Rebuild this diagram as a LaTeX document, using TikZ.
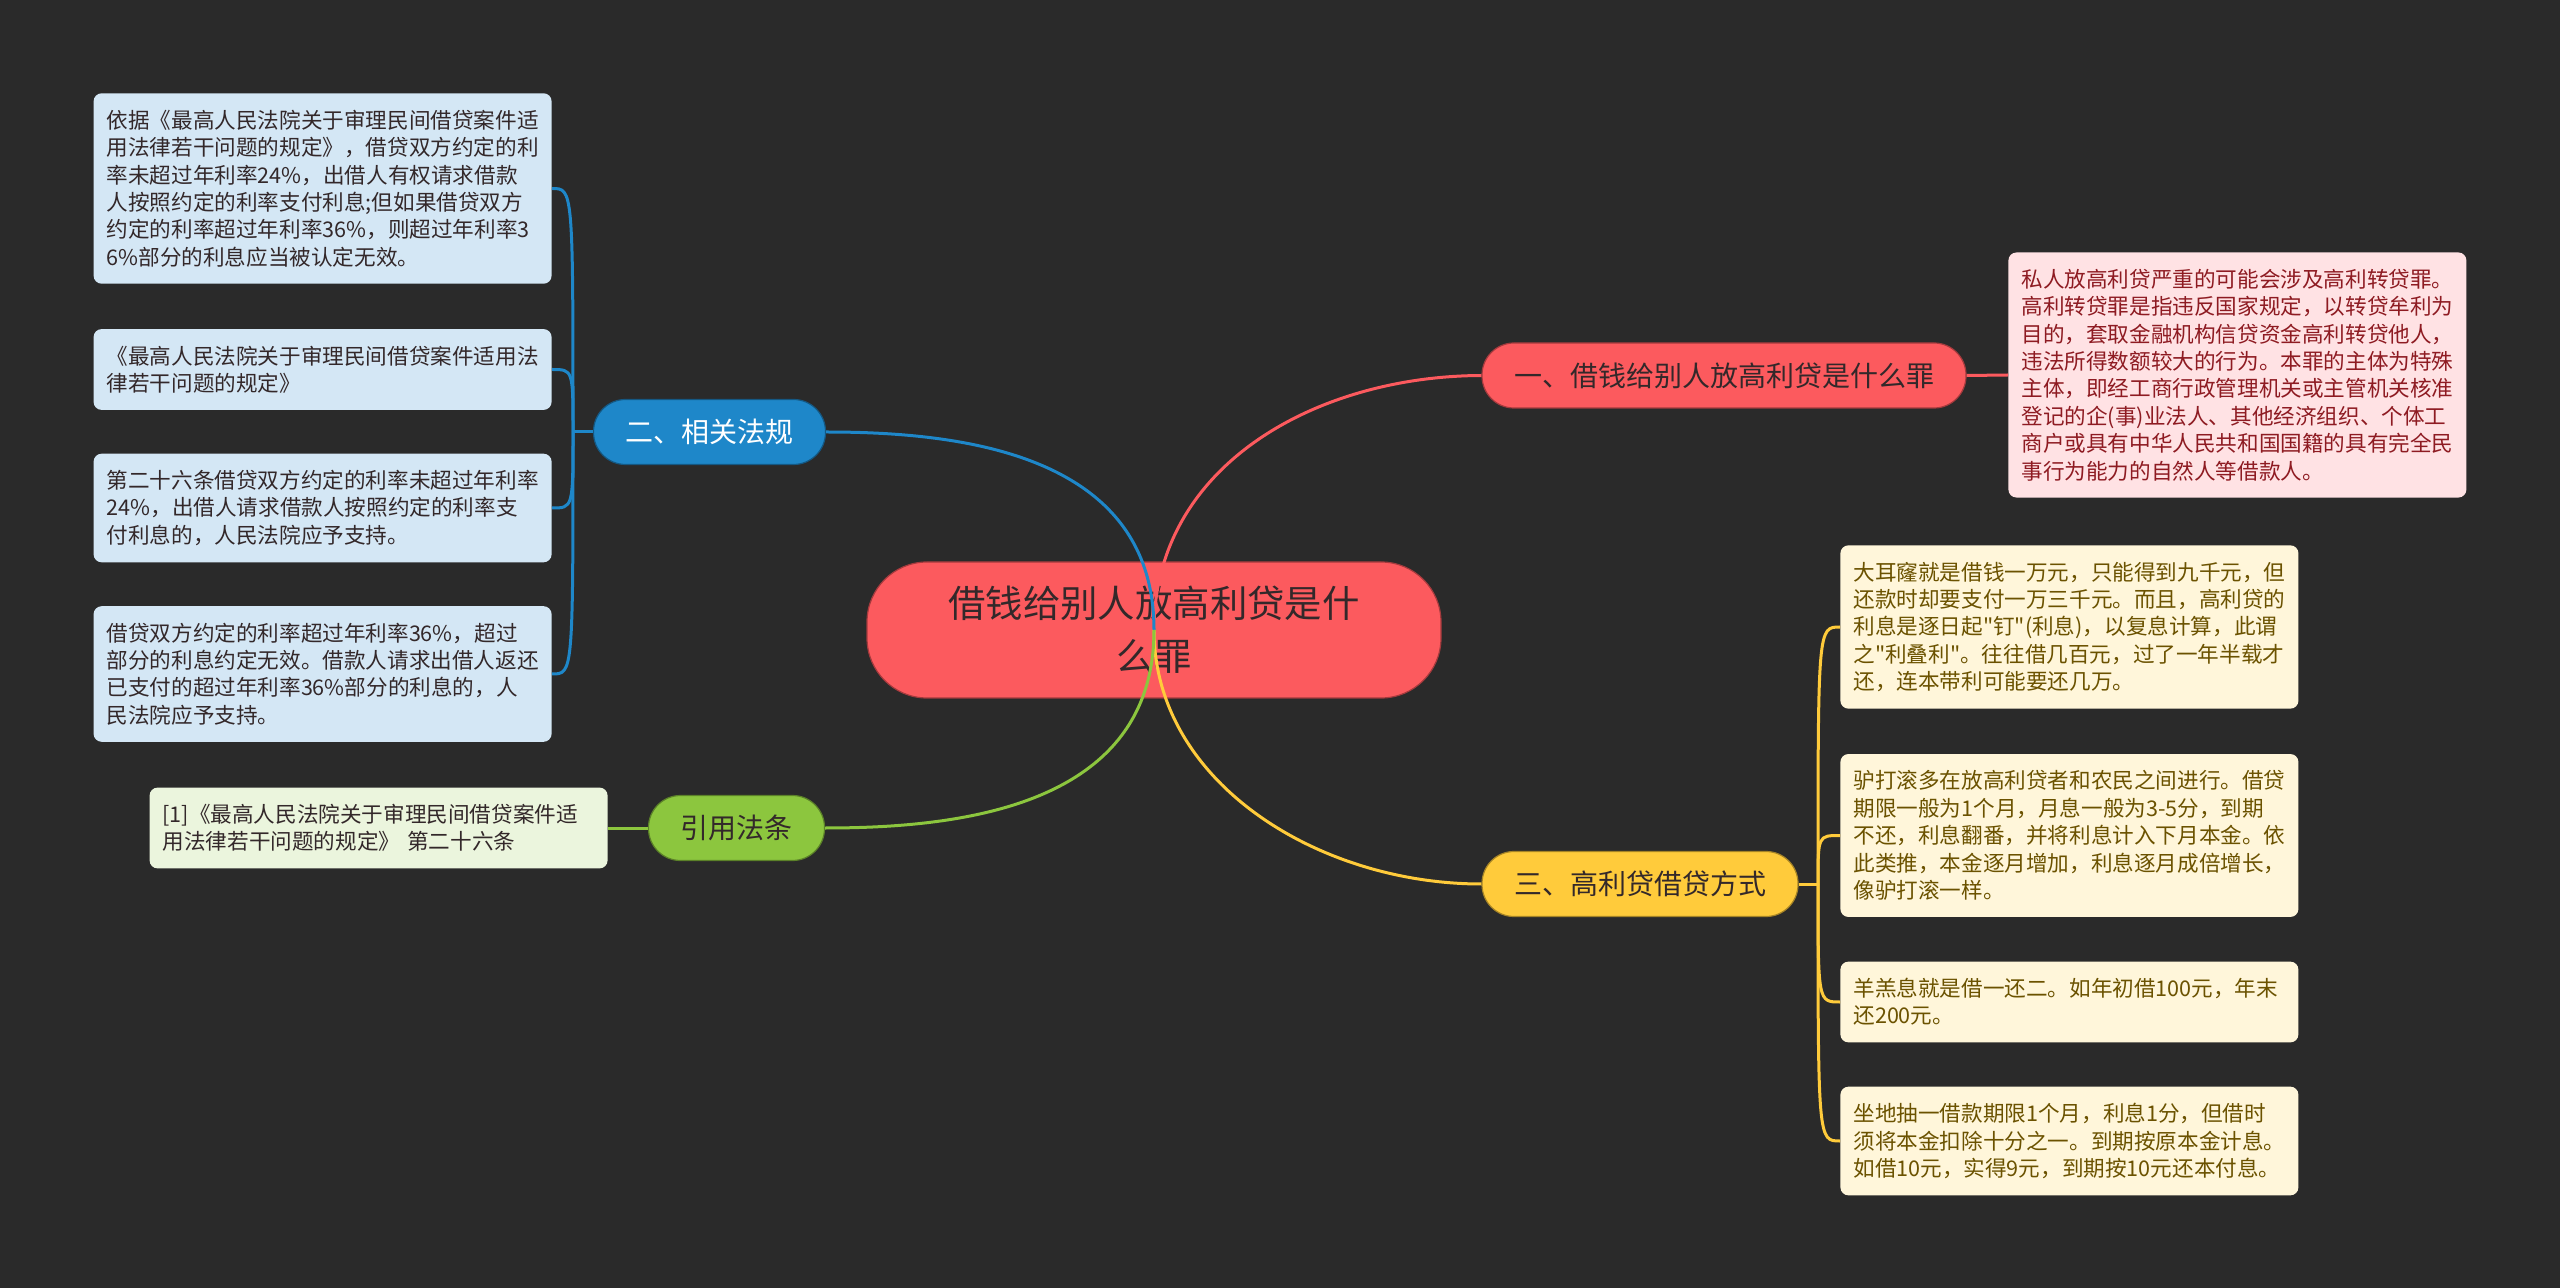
\documentclass[tikz,border=0pt]{standalone}
\usepackage{fontspec}
\setmainfont{Noto Sans CJK SC}[Ligatures=TeXOff]
\definecolor{bgdark}{HTML}{2A2A2A}
\definecolor{rootred}{HTML}{FC5A5E}
\definecolor{lawblue}{HTML}{1E87C9}
\definecolor{citegreen}{HTML}{8CC63E}
\definecolor{wayyellow}{HTML}{FFCB3B}
\definecolor{inkdark}{HTML}{33282A}
\definecolor{bluenote}{HTML}{D4E7F5}
\definecolor{rednote}{HTML}{FFE2E4}
\definecolor{redink}{HTML}{8E1B22}
\definecolor{yellownote}{HTML}{FFF6DA}
\definecolor{yellowink}{HTML}{6B5200}
\definecolor{greennote}{HTML}{EBF5DD}
\begin{document}
\begin{tikzpicture}[x=0.5pt, y=-0.5pt,
    root/.style={fill=rootred, draw=rootred!65!black, line width=0.6pt, rounded corners=30pt,
        minimum width=287pt, minimum height=68pt, align=center, text=inkdark,
        font=\fontsize{18.7pt}{26.5pt}\selectfont},
    topic/.style={line width=0.6pt, rounded corners=16pt, minimum height=32.5pt,
        inner xsep=16pt, font=\fontsize{14pt}{16pt}\selectfont},
    leaf/.style={rounded corners=4pt, text width=216pt, inner xsep=6.5pt, inner ysep=8.3pt,
        align=left, font=\fontsize{10.8pt}{13.7pt}\selectfont},
    branch/.style={line width=1.5pt}]

    % background
    \fill[bgdark] (0,0) rectangle (2560,1288);

    % central topic
    \node[root] (root) at (1154,630) {借钱给别人放高利贷是什\\么罪};

    % main topics
    \node[topic, fill=rootred, draw=rootred!65!black, text=inkdark] (t1) at (1724,375.5) {一、借钱给别人放高利贷是什么罪};
    \node[topic, fill=lawblue, draw=lawblue!65!black, text=white] (t2) at (709.5,432) {二、相关法规};
    \node[topic, fill=wayyellow, draw=wayyellow!65!black, text=inkdark] (t3) at (1640,884) {三、高利贷借贷方式};
    \node[topic, fill=citegreen, draw=citegreen!65!black, text=inkdark] (t4) at (736.5,828) {引用法条};

    % notes of topic one
    \node[leaf, fill=rednote, text=redink, anchor=west] (r1) at (2008,375) {私人放高利贷严重的可能会涉及高利转贷罪。\\高利转贷罪是指违反国家规定，以转贷牟利为\\目的，套取金融机构信贷资金高利转贷他人，\\违法所得数额较大的行为。本罪的主体为特殊\\主体，即经工商行政管理机关或主管机关核准\\登记的企(事)业法人、其他经济组织、个体工\\商户或具有中华人民共和国国籍的具有完全民\\事行为能力的自然人等借款人。};

    % notes of topic two
    \node[leaf, fill=bluenote, text=inkdark, anchor=east] (b1) at (552,188.5) {依据《最高人民法院关于审理民间借贷案件适\\用法律若干问题的规定》，借贷双方约定的利\\率未超过年利率24\%，出借人有权请求借款\\人按照约定的利率支付利息;但如果借贷双方\\约定的利率超过年利率36\%，则超过年利率3\\6\%部分的利息应当被认定无效。};
    \node[leaf, fill=bluenote, text=inkdark, anchor=east] (b2) at (552,369.5) {《最高人民法院关于审理民间借贷案件适用法\\律若干问题的规定》};
    \node[leaf, fill=bluenote, text=inkdark, anchor=east] (b3) at (552,508) {第二十六条借贷双方约定的利率未超过年利率\\24\%，出借人请求借款人按照约定的利率支\\付利息的，人民法院应予支持。};
    \node[leaf, fill=bluenote, text=inkdark, anchor=east] (b4) at (552,674) {借贷双方约定的利率超过年利率36\%，超过\\部分的利息约定无效。借款人请求出借人返还\\已支付的超过年利率36\%部分的利息的，人\\民法院应予支持。};

    % notes of topic three
    \node[leaf, fill=yellownote, text=yellowink, anchor=west] (y1) at (1840,627) {大耳窿就是借钱一万元，只能得到九千元，但\\还款时却要支付一万三千元。而且，高利贷的\\利息是逐日起"钉"(利息)，以复息计算，此谓\\之"利叠利"。往往借几百元，过了一年半载才\\还，连本带利可能要还几万。};
    \node[leaf, fill=yellownote, text=yellowink, anchor=west] (y2) at (1840,835.5) {驴打滚多在放高利贷者和农民之间进行。借贷\\期限一般为1个月，月息一般为3-5分，到期\\不还，利息翻番，并将利息计入下月本金。依\\此类推，本金逐月增加，利息逐月成倍增长，\\像驴打滚一样。};
    \node[leaf, fill=yellownote, text=yellowink, anchor=west] (y3) at (1840,1002) {羊羔息就是借一还二。如年初借100元，年末\\还200元。};
    \node[leaf, fill=yellownote, text=yellowink, anchor=west] (y4) at (1840,1141) {坐地抽一借款期限1个月，利息1分，但借时\\须将本金扣除十分之一。到期按原本金计息。\\如借10元，实得9元，到期按10元还本付息。};

    % cited article
    \node[leaf, fill=greennote, text=inkdark, anchor=east] (g1) at (608,828) {[1]《最高人民法院关于审理民间借贷案件适\\用法律若干问题的规定》 第二十六条};

    % curves from the centre
    \draw[branch, rootred] (root.center) .. controls (1154,465) and (1317,376) .. (t1.west);
    \draw[branch, lawblue] (root.center) .. controls (1154,452) and (957,432) .. (t2.east);
    \draw[branch, wayyellow] (root.center) .. controls (1154,782) and (1318,884) .. (t3.west);
    \draw[branch, citegreen] (root.center) .. controls (1154,808) and (957,828) .. (t4.east);

    % brackets to the notes
    \coordinate (j2) at (573,432);
    \coordinate (j3) at (1818,884);
    \draw[branch, rootred] (t1.east) -- (r1.west);
    \draw[branch, citegreen] (g1.east) -- (t4.west);
    \draw[branch, lawblue] (t2.west) -- (j2);
    \foreach \n in {b1,b2,b3,b4}
        \draw[branch, lawblue] (j2) .. controls (j2 |- \n.east) .. (\n.east);
    \draw[branch, wayyellow] (t3.east) -- (j3);
    \foreach \n in {y1,y2,y3,y4}
        \draw[branch, wayyellow] (j3) .. controls (j3 |- \n.west) .. (\n.west);
\end{tikzpicture}
\end{document}
